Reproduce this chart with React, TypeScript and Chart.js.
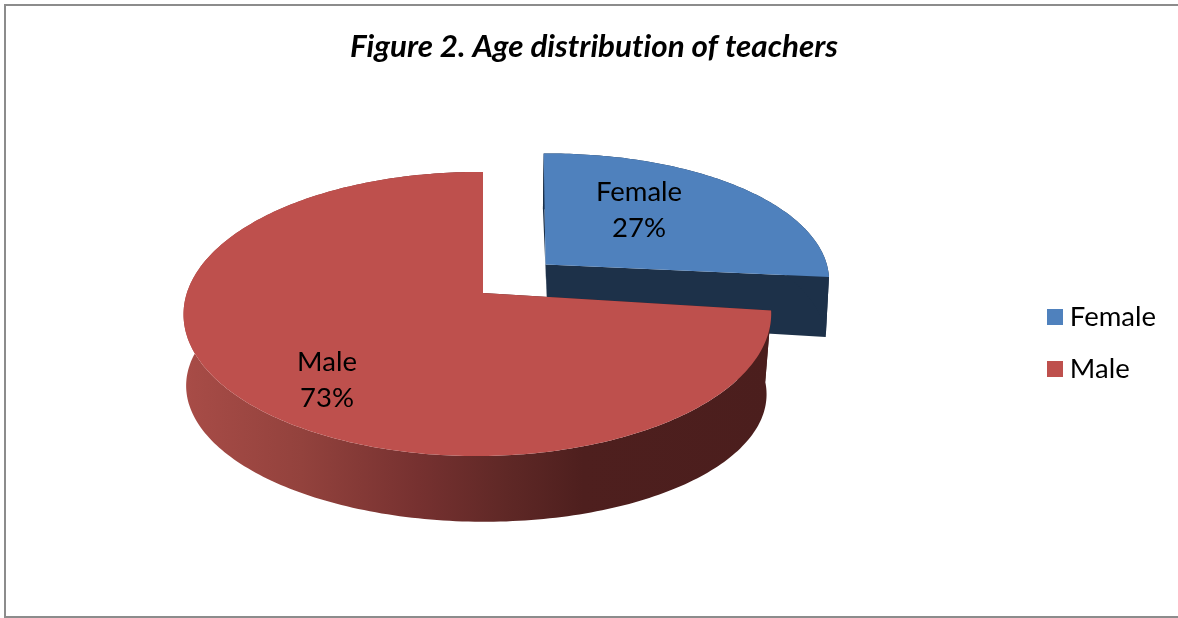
import React, { useEffect, useRef } from "react";
import { Chart, registerables } from "chart.js";

Chart.register(...registerables);

const categories = ["Female", "Male"];
const shares = [27, 73];
const explosionPercent = [29.5, 0];
const labelOffsetU = [0.355, -0.487];
const labelOffsetV = [-0.452, 0.567];
const faceColors = ["#4F81BD", "#BE504D"];
const titleText = "Figure 2. Age distribution of teachers";

const FONT = "Lato, Carlito, 'Open Sans', sans-serif";
const TOP_PLANES = [
  { ax: 481, ay: 291, rx: 296, ry: 135, sx: -6, sy: -4, tilt: 0.1478 },
  { ax: 483, ay: 293, rx: 290.5, ry: 138.9, sx: 0, sy: 0, tilt: 0.1478 },
];
const BOTTOM_PLANES = [
  { ax: 485, ay: 346, rx: 290, ry: 135, sx: -3, sy: 0, tilt: 0.1478 },
  { ax: 482, ay: 361, rx: 283, ry: 125.4, sx: 0, sy: 5, tilt: 0.22 },
];
const TILT_U = 0.019;

type Plane = (typeof TOP_PLANES)[number];

function project(plane: Plane, u: number, v: number): [number, number] {
  const den = 1 - plane.tilt * v + TILT_U * u;
  return [
    plane.ax + (plane.rx * u) / den + plane.sx * v,
    plane.ay + (plane.ry * v) / den + plane.sy * u,
  ];
}

function rimPoints(plane: Plane, start: number, end: number, ou: number, ov: number) {
  const steps = Math.max(8, Math.ceil(((end - start) * 180) / Math.PI));
  const pts: [number, number][] = [];
  for (let i = 0; i <= steps; i++) {
    const a = start + ((end - start) * i) / steps;
    pts.push(project(plane, ou + Math.cos(a), ov + Math.sin(a)));
  }
  return pts;
}

function tracePoly(ctx: CanvasRenderingContext2D, pts: [number, number][], fill: any) {
  ctx.beginPath();
  pts.forEach((p, i) => (i ? ctx.lineTo(p[0], p[1]) : ctx.moveTo(p[0], p[1])));
  ctx.closePath();
  ctx.fillStyle = fill;
  ctx.fill();
}

function legendSwatch(color: string) {
  const c = document.createElement("canvas");
  c.width = 16;
  c.height = 16;
  const g = c.getContext("2d")!;
  g.fillStyle = color;
  g.fillRect(0, 0, 16, 16);
  return c;
}

const framePlugin = {
  id: "frame",
  afterLayout(chart: any) {
    chart.legend.top += 34;
    chart.legend.bottom += 34;
  },
  beforeDraw(chart: any) {
    const { ctx, width, height } = chart;
    // a non-zero spacing switches the font's ligatures off
    ctx.letterSpacing = "0.01px";
    ctx.save();
    ctx.fillStyle = "#8C8C8C";
    ctx.fillRect(4, 4, 2, height - 5);
    ctx.fillRect(4, 4, width - 4, 2);
    ctx.fillRect(4, height - 2, width - 4, 2);
    ctx.restore();
  },
};

const pie3dPlugin = {
  id: "pie3d",
  beforeDatasetDraw(chart: any, args: any) {
    const { ctx } = chart;
    const arcs = args.meta.data;
    ctx.save();
    arcs.forEach((arc: any, i: number) => {
      const { startAngle, endAngle } = arc;
      const mid = (startAngle + endAngle) / 2;
      const d = explosionPercent[i] / 100;
      const ou = d * Math.cos(mid);
      const ov = d * Math.sin(mid);
      const topRim = rimPoints(TOP_PLANES[i], startAngle, endAngle, ou, ov);
      const botRim = rimPoints(BOTTOM_PLANES[i], startAngle, endAngle, ou, ov);
      const topApex = project(TOP_PLANES[i], ou, ov);
      const botApex = project(BOTTOM_PLANES[i], ou, ov);

      const isMale = i === 1;
      let wall: any = "#1D3149";
      if (isMale) {
        const g = ctx.createLinearGradient(184, 0, 771, 0);
        g.addColorStop(0, "#A84C47");
        g.addColorStop(0.2, "#93423D");
        g.addColorStop(0.4, "#763130");
        g.addColorStop(0.55, "#5F2826");
        g.addColorStop(0.68, "#4E1F1E");
        g.addColorStop(1, "#4B1E1D");
        wall = g;
      }
      const cut = isMale ? "#4B1E1D" : "#1D3149";
      tracePoly(ctx, [topApex, topRim[0], botRim[0], botApex], cut);
      tracePoly(ctx, [topApex, topRim[topRim.length - 1], botRim[botRim.length - 1], botApex], cut);
      tracePoly(ctx, [...topRim, ...botRim.slice().reverse()], wall);
      tracePoly(ctx, [topApex, ...topRim], faceColors[i]);
    });
    ctx.fillStyle = "#000";
    ctx.textAlign = "center";
    ctx.textBaseline = "middle";
    ctx.font = `27.5px ${FONT}`;
    arcs.forEach((arc: any, i: number) => {
      const mid = (arc.startAngle + arc.endAngle) / 2;
      const d = explosionPercent[i] / 100;
      const [x, y] = project(
        TOP_PLANES[i],
        d * Math.cos(mid) + labelOffsetU[i],
        d * Math.sin(mid) + labelOffsetV[i]
      );
      ctx.fillText(categories[i], x, y - 18);
      ctx.fillText(`${shares[i]}%`, x, y + 18);
    });
    ctx.restore();
    return false;
  },
};

export default function App() {
  const ref = useRef<HTMLCanvasElement>(null);
  useEffect(() => {
    document.body.style.margin = "0";
    const chart = new Chart(ref.current!, {
      type: "pie",
      data: {
        labels: categories,
        datasets: [
          {
            data: shares,
            backgroundColor: faceColors,
            borderWidth: 0,
            offset: explosionPercent.map((e) => e * 2),
          },
        ],
      },
      options: {
        responsive: false,
        animation: false,
        layout: { padding: { left: 22, right: 12, top: 14, bottom: 14 } },
        plugins: {
          tooltip: { enabled: false },
          title: {
            display: true,
            text: titleText,
            color: "#000",
            font: { family: FONT, size: 31.4, weight: "bold", style: "italic" },
            padding: { top: 14, bottom: 14 },
          },
          legend: {
            display: true,
            position: "right",
            labels: {
              color: "#000",
              font: { family: FONT, size: 27.5 },
              usePointStyle: true,
              pointStyleWidth: 2.5,
              boxHeight: 16,
              padding: 24.5,
              generateLabels: () =>
                categories.map((text, i) => ({
                  text,
                  index: i,
                  fontColor: "#000",
                  fillStyle: faceColors[i],
                  strokeStyle: faceColors[i],
                  lineWidth: 0,
                  pointStyle: legendSwatch(faceColors[i]),
                  hidden: false,
                })),
            },
          },
        },
      },
      plugins: [framePlugin, pie3dPlugin],
    } as any);
    return () => chart.destroy();
  }, []);
  return <canvas ref={ref} width={1178} height={618} style={{ display: "block" }} />;
}
